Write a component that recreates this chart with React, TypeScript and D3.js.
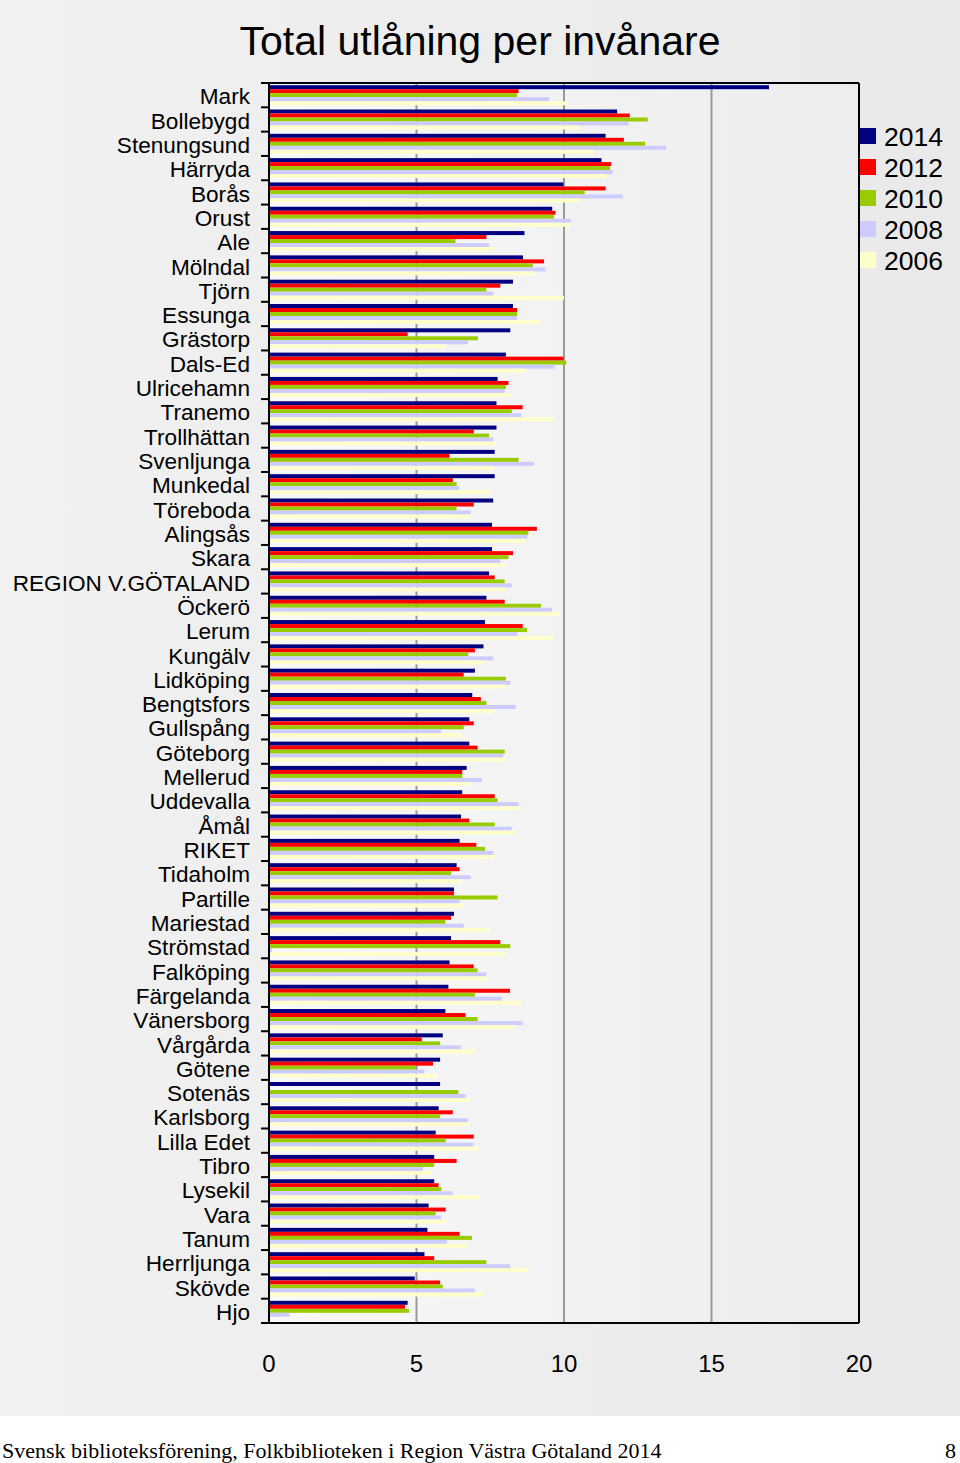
import React from 'react';
import * as d3 from 'd3';

const categories = [
  'Mark', 'Bollebygd', 'Stenungsund', 'Härryda', 'Borås', 'Orust', 'Ale', 'Mölndal', 'Tjörn', 'Essunga',
  'Grästorp', 'Dals-Ed', 'Ulricehamn', 'Tranemo', 'Trollhättan', 'Svenljunga', 'Munkedal', 'Töreboda', 'Alingsås', 'Skara',
  'REGION V.GÖTALAND', 'Öckerö', 'Lerum', 'Kungälv', 'Lidköping', 'Bengtsfors', 'Gullspång', 'Göteborg', 'Mellerud', 'Uddevalla',
  'Åmål', 'RIKET', 'Tidaholm', 'Partille', 'Mariestad', 'Strömstad', 'Falköping', 'Färgelanda', 'Vänersborg', 'Vårgårda',
  'Götene', 'Sotenäs', 'Karlsborg', 'Lilla Edet', 'Tibro', 'Lysekil', 'Vara', 'Tanum', 'Herrljunga', 'Skövde', 'Hjo',
];

const years = ['2014', '2012', '2010', '2008', '2006'];

const v2014 = [16.95, 11.8, 11.41, 11.27, 9.98, 9.6, 8.66, 8.61, 8.27, 8.27,
  8.18, 8.03, 7.75, 7.71, 7.71, 7.65, 7.65, 7.6, 7.56, 7.56,
  7.46, 7.37, 7.32, 7.27, 6.98, 6.89, 6.79, 6.79, 6.7, 6.55,
  6.51, 6.46, 6.36, 6.27, 6.27, 6.17, 6.12, 6.08, 5.98, 5.89,
  5.8, 5.8, 5.75, 5.65, 5.6, 5.6, 5.41, 5.37, 5.27, 4.94, 4.7];
const v2012 = [8.46, 12.23, 12.03, 11.6, 11.41, 9.71, 7.37, 9.32, 7.84, 8.41,
  4.7, 9.98, 8.12, 8.6, 6.94, 6.12, 6.23, 6.94, 9.08, 8.27,
  7.65, 7.99, 8.6, 6.98, 6.6, 7.18, 6.94, 7.07, 6.55, 7.65,
  6.79, 7.03, 6.46, 6.27, 6.17, 7.84, 6.94, 8.17, 6.66, 5.18,
  5.56, 0, 6.23, 6.94, 6.36, 5.75, 5.99, 6.46, 5.6, 5.8, 4.61];
const v2010 = [8.41, 12.84, 12.75, 11.56, 10.7, 9.66, 6.32, 8.94, 7.37, 8.41,
  7.08, 10.08, 8.03, 8.23, 7.46, 8.46, 6.36, 6.36, 8.79, 8.12,
  7.99, 9.22, 8.75, 6.75, 8.03, 7.37, 6.6, 7.99, 6.55, 7.75,
  7.65, 7.32, 6.17, 7.75, 5.98, 8.18, 7.07, 6.98, 7.07, 5.8,
  4.98, 6.42, 5.8, 5.99, 5.6, 5.84, 5.65, 6.88, 7.37, 5.89, 4.75];
const v2008 = [9.5, 12.18, 13.46, 11.65, 11.99, 10.23, 7.46, 9.37, 7.6, 8.41,
  6.75, 9.69, 7.99, 8.55, 7.6, 8.98, 6.45, 6.84, 8.75, 7.84,
  8.23, 9.59, 8.42, 7.6, 8.18, 8.36, 5.83, 7.94, 7.22, 8.46,
  8.23, 7.6, 6.84, 6.46, 6.6, 0.1, 7.37, 7.89, 8.6, 6.51,
  5.27, 6.66, 6.75, 6.94, 5.22, 6.23, 5.84, 6.03, 8.17, 6.98, 0.7];
const v2006 = [10.1, 10.5, 11.0, 11.4, 10.5, 10.2, 7.6, 9.0, 10.0, 9.2,
  6.0, 8.7, 8.2, 9.65, 7.7, 7.6, 7.5, 6.8, 8.7, 8.0,
  8.0, 9.86, 9.65, 7.3, 8.0, 7.6, 6.5, 8.0, 6.8, 8.5,
  8.34, 7.6, 6.5, 6.6, 7.46, 8.0, 7.4, 8.56, 8.3, 6.98,
  5.7, 6.8, 6.8, 7.1, 5.5, 7.13, 6.0, 6.7, 8.79, 7.27, 0];

const series = [v2014, v2012, v2010, v2008, v2006];
const colors = ['#000080', '#ff0000', '#99cc00', '#ccccff', '#ffffcc'];
const xTicks = [0, 5, 10, 15, 20];

export default function App() {
  const W = 960;
  const H = 1463;
  const left = 269, right = 859, top = 83, bottom = 1323;
  const font = 'Arial, "Liberation Sans", sans-serif';

  const x = d3.scaleLinear().domain([0, 20]).range([left, right]);
  const y = d3.scaleBand<string>().domain(categories).range([top, bottom]).paddingInner(0.177).paddingOuter(0.09);
  const yi = d3.scaleBand<string>().domain(years).range([0, y.bandwidth()]);
  const step = (bottom - top) / categories.length;

  return (
    <svg width={W} height={H} style={{ position: 'absolute', left: 0, top: 0 }} xmlns="http://www.w3.org/2000/svg">
      <defs>
        <linearGradient id="pageBg" x1="0" y1="0" x2="1" y2="0">
          <stop offset="0" stopColor="#f1f1f1" />
          <stop offset="1" stopColor="#e9e9e9" />
        </linearGradient>
        <linearGradient id="plotBg" x1="0" y1="0" x2="1" y2="0">
          <stop offset="0" stopColor="#f8f8f8" />
          <stop offset="1" stopColor="#ececec" />
        </linearGradient>
      </defs>
      <rect x={0} y={0} width={W} height={H} fill="url(#pageBg)" />
      <rect x={left} y={top} width={right - left} height={bottom - top} fill="url(#plotBg)" />

      {xTicks.slice(1, -1).map((t) => (
        <line key={'g' + t} x1={x(t)} x2={x(t)} y1={top} y2={bottom} stroke="#9a9a9a" strokeWidth={2} />
      ))}

      {categories.map((c, i) => (
        <g key={c} transform={`translate(0,${y(c)})`}>
          {series.map((s, k) => (
            <rect key={k} x={x(0)} y={yi(years[k])} width={Math.max(0, x(s[i]) - x(0))} height={yi.bandwidth()} fill={colors[k]} />
          ))}
        </g>
      ))}

      <line x1={left} x2={right} y1={top} y2={top} stroke="#000" strokeWidth={2} />
      <line x1={right} x2={right} y1={top} y2={bottom} stroke="#000" strokeWidth={2} />
      <line x1={left} x2={right} y1={bottom} y2={bottom} stroke="#000" strokeWidth={2} />
      <line x1={left} x2={left} y1={top} y2={bottom} stroke="#000" strokeWidth={2} />

      {d3.range(categories.length + 1).map((i) => (
        <line key={'t' + i} x1={left - 8} x2={left} y1={top + i * step} y2={top + i * step} stroke="#000" strokeWidth={2} />
      ))}

      {categories.map((c) => (
        <text key={'l' + c} x={250} y={(y(c) as number) + y.bandwidth() / 2 + 1} dy="0.36em" textAnchor="end"
          fontFamily={font} fontSize={22.6} fill="#000">{c}</text>
      ))}

      {xTicks.map((t) => (
        <text key={'x' + t} x={x(t)} y={1372} textAnchor="middle" fontFamily={font} fontSize={24} fill="#000">{t}</text>
      ))}

      <text x={480} y={55} textAnchor="middle" fontFamily={font} fontSize={41} fill="#000">Total utlåning per invånare</text>

      {years.map((yr, k) => (
        <g key={'lg' + yr} transform={`translate(860,${128 + k * 31})`}>
          <rect x={0} y={0} width={16} height={16} fill={colors[k]} />
          <text x={24} y={8} dy="0.36em" fontFamily={font} fontSize={26.5} fill="#000">{yr}</text>
        </g>
      ))}

      <rect x={0} y={1416} width={W} height={H - 1416} fill="#ffffff" />
      <text x={2} y={1458} fontFamily='"Liberation Serif", "Times New Roman", serif' fontSize={22} fill="#000">Svensk biblioteksförening, Folkbiblioteken i Region Västra Götaland 2014</text>
      <text x={956} y={1458} textAnchor="end" fontFamily='"Liberation Serif", "Times New Roman", serif' fontSize={22} fill="#000">8</text>
    </svg>
  );
}
